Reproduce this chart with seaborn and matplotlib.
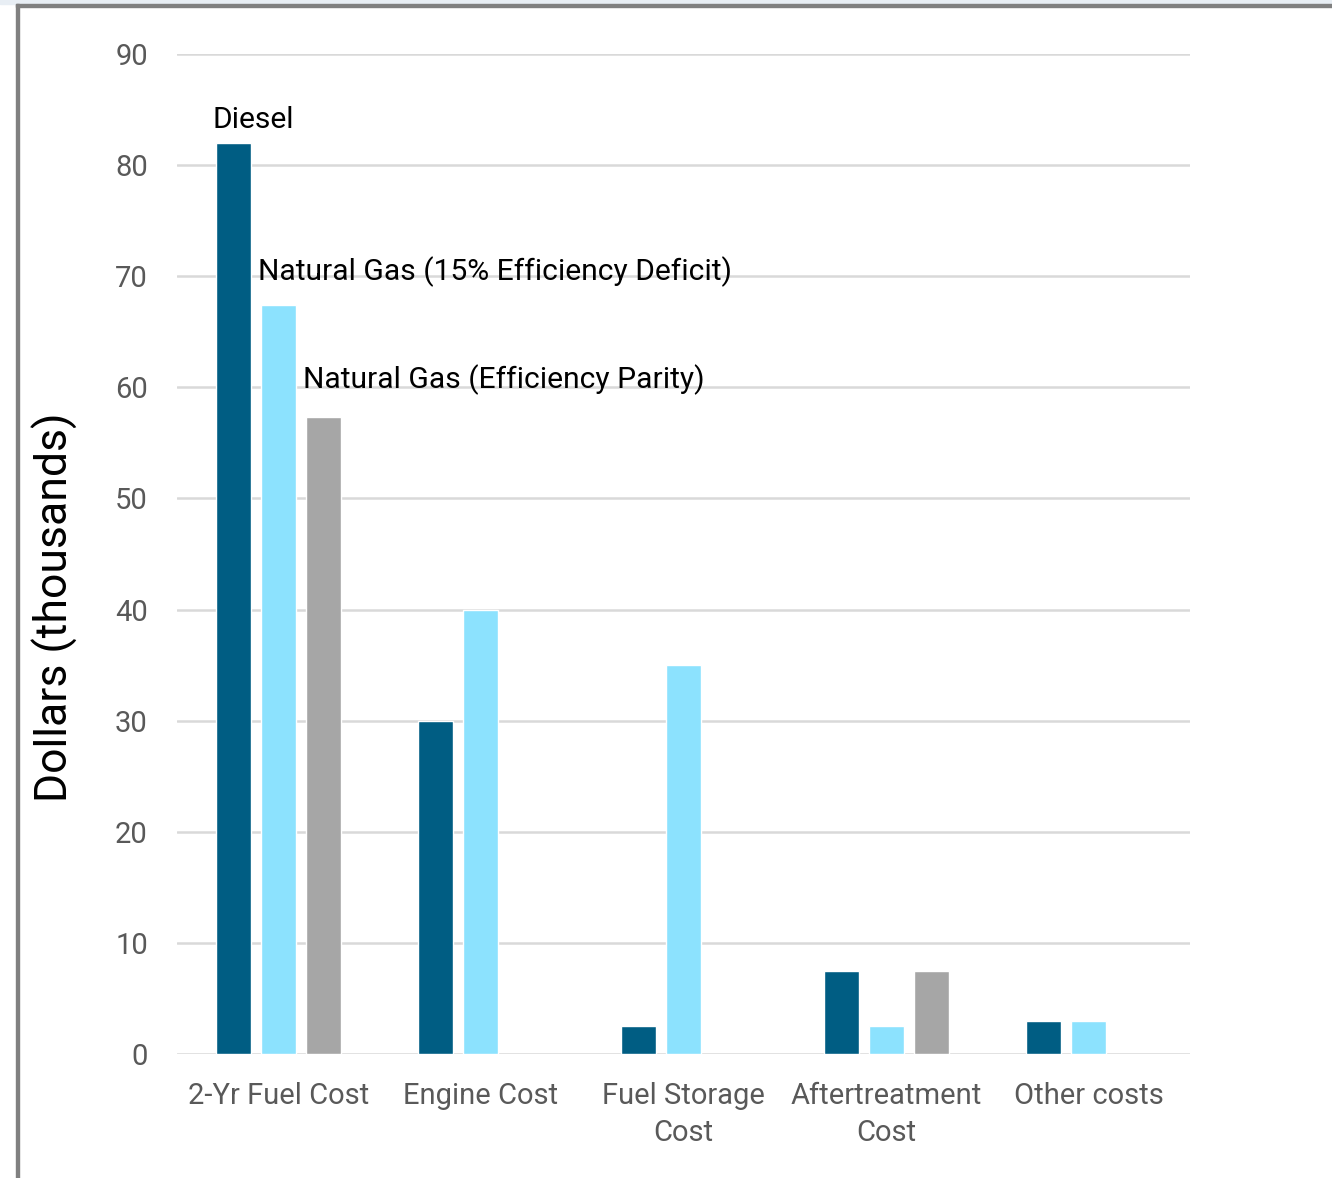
import numpy as np
import pandas as pd
import matplotlib
matplotlib.use("Agg")
import matplotlib.pyplot as plt
from matplotlib.patches import Rectangle
import seaborn as sns

categories = ["2-Yr Fuel Cost", "Engine Cost", "Fuel Storage\nCost",
              "Aftertreatment\nCost", "Other costs"]
series_names = ["Diesel", "Natural Gas (15% Efficiency Deficit)",
                "Natural Gas (Efficiency Parity)"]
diesel = [82.0, 30.0, 2.5, 7.5, 3.0]
ng_deficit = [67.4, 40.0, 35.0, 2.5, 3.0]
ng_parity = [57.3, np.nan, np.nan, 7.5, np.nan]
y_ticks = [0, 10, 20, 30, 40, 50, 60, 70, 80, 90]

colors = ["#005D83", "#8CE2FE", "#A6A6A6"]

df = pd.DataFrame({
    "category": categories * 3,
    "series": [s for s in series_names for _ in categories],
    "value": diesel + ng_deficit + ng_parity,
})

sns.set_theme(style="white")
plt.rcParams["font.family"] = ["Roboto", "DejaVu Sans"]

fig = plt.figure(figsize=(13.32, 11.78), dpi=100)
ax = fig.add_axes([0.1329, 0.1053, 0.7605, 0.8489])

sns.barplot(data=df, x="category", y="value", hue="series",
            hue_order=series_names, order=categories,
            palette=colors, width=0.667, gap=0.22, saturation=1,
            errorbar=None, legend=False, ax=ax, zorder=3)

ax.set_ylim(0, 90)
ax.set_xlim(-0.5, len(categories) - 0.5)
ax.set_yticks(y_ticks)
ax.grid(axis="y", color="#D9D9D9", linewidth=1.8, zorder=0)
ax.set_axisbelow(True)
for s in ax.spines.values():
    s.set_visible(False)

ax.tick_params(axis="y", length=0, pad=21, labelsize=21, labelcolor="#595959")
ax.tick_params(axis="x", length=0, pad=20, labelsize=21, labelcolor="#595959")
for lbl in ax.get_xticklabels():
    lbl.set_linespacing(1.4)

ax.set_xlabel("")
ax.set_ylabel("Dollars (thousands)", fontsize=32, color="black", labelpad=0)
ax.yaxis.set_label_coords(-0.098, 0.447)

# label each series above its bar in the first group
first_vals = [diesel[0], ng_deficit[0], ng_parity[0]]
label_lift = [1.35, 2.25, 2.6]
for cont, name, v, lift in zip(ax.containers, series_names, first_vals, label_lift):
    bar = cont.patches[0]
    ax.text(bar.get_x() - 0.015, v + lift, name, ha="left", va="baseline",
            fontsize=21.6, color="black", zorder=5)

# frame around the chart area
fig.patches.append(Rectangle((0, 1 - 4 / 1178), 1, 4 / 1178,
                             transform=fig.transFigure, color="#E8EEF4", zorder=0))
fig.patches.append(Rectangle((16 / 1332, 1 - 7 / 1178), 1, 3 / 1178,
                             transform=fig.transFigure, color="#808080", zorder=1))
fig.patches.append(Rectangle((16 / 1332, 0), 3 / 1332, 1 - 4 / 1178,
                             transform=fig.transFigure, color="#808080", zorder=1))

fig.savefig("out.png", dpi=100)
